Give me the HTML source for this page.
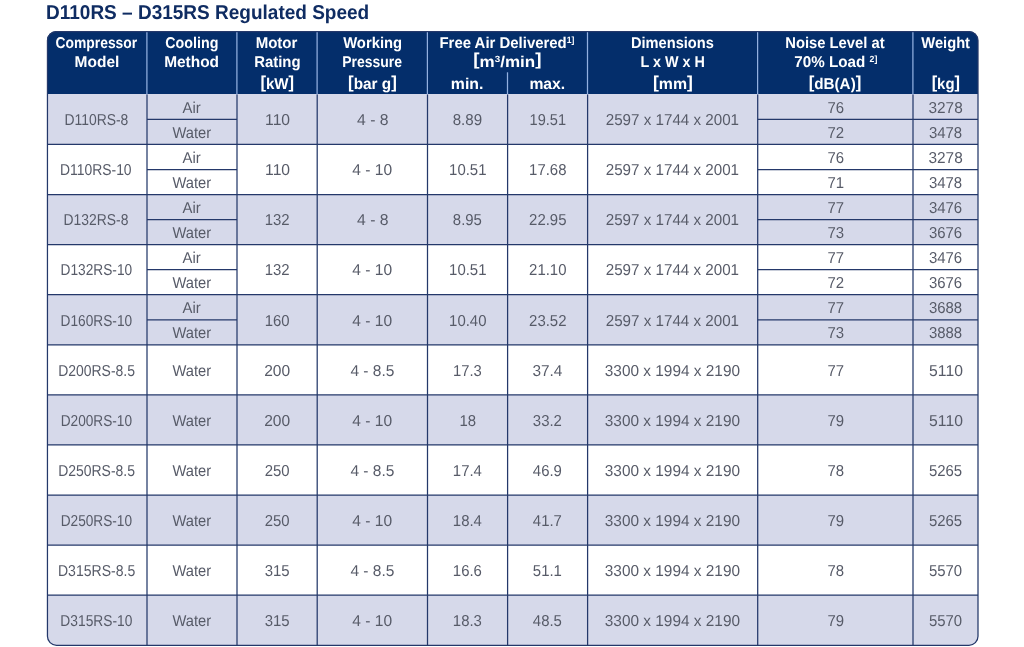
<!DOCTYPE html>
<html lang="en"><head><meta charset="utf-8"><title>D110RS – D315RS Regulated Speed</title>
<style>
html,body{margin:0;padding:0;background:#fff}
body{width:1024px;height:647px;position:relative;overflow:hidden;font-family:"Liberation Sans",sans-serif;text-rendering:geometricPrecision}
.a{position:absolute}
.c{position:absolute;display:flex;align-items:center;justify-content:center;color:#575b68;font-size:15.8px;line-height:18px;height:18px;white-space:nowrap}
.c span{display:inline-block;white-space:nowrap}
.h{position:absolute;display:flex;align-items:center;justify-content:center;color:#fff;font-weight:bold;font-size:15.6px;line-height:18px;height:18px;white-space:nowrap}
.u{font-size:15.6px}
.h span{display:inline-block;white-space:nowrap}
.h i{font-style:normal;font-size:17.2px;line-height:0;position:relative;top:-1.1px}
.v i{top:-2.2px !important}
.h sup{font-size:9px;line-height:0;vertical-align:baseline;position:relative;top:-5px}
#title{position:absolute;left:45.6px;top:1px;height:24px;line-height:24px;font-size:20px;font-weight:bold;color:#0f2c62;white-space:nowrap}
#title span{display:inline-block;transform-origin:0 50%;white-space:nowrap}
</style></head><body>
<div id="title"><span style="transform:scaleX(0.9503)">D110RS – D315RS Regulated Speed</span></div>
<div class="a" style="left:47.3px;top:31.0px;width:930.7px;height:614.3px;border-radius:9px;background:#fff;overflow:hidden">
<div class="a" style="left:0;top:0;width:100%;height:63.4px;background:#042e6b"></div>
<div class="a" style="left:0;top:63.40px;width:100%;height:50.08px;background:#d6d9ea"></div>
<div class="a" style="left:0;top:163.56px;width:100%;height:50.08px;background:#d6d9ea"></div>
<div class="a" style="left:0;top:263.72px;width:100%;height:50.08px;background:#d6d9ea"></div>
<div class="a" style="left:0;top:363.88px;width:100%;height:50.08px;background:#d6d9ea"></div>
<div class="a" style="left:0;top:464.04px;width:100%;height:50.08px;background:#d6d9ea"></div>
<div class="a" style="left:0;top:564.20px;width:100%;height:50.08px;background:#d6d9ea"></div>
</div>
<svg class="a" style="left:0;top:0" width="1024" height="647" viewBox="0 0 1024 647" fill="none">
<g stroke="#93b0e0" stroke-width="1.25">
<path d="M146.90 32.0V94.4"/>
<path d="M236.90 32.0V94.4"/>
<path d="M317.10 32.0V94.4"/>
<path d="M427.40 32.0V94.4"/>
<path d="M587.50 32.0V94.4"/>
<path d="M757.60 32.0V94.4"/>
<path d="M912.90 32.0V94.4"/>
<path d="M507.50 72.3V94.4"/>
</g>
<g stroke="#24386a" stroke-width="1.25">
<path d="M147.00 94.4V645.3"/>
<path d="M237.00 94.4V645.3"/>
<path d="M317.20 94.4V645.3"/>
<path d="M427.50 94.4V645.3"/>
<path d="M507.60 94.4V645.3"/>
<path d="M587.60 94.4V645.3"/>
<path d="M757.70 94.4V645.3"/>
<path d="M913.00 94.4V645.3"/>
<path d="M47.3 144.48H978.0"/>
<path d="M47.3 194.56H978.0"/>
<path d="M47.3 244.64H978.0"/>
<path d="M47.3 294.72H978.0"/>
<path d="M47.3 344.80H978.0"/>
<path d="M47.3 394.88H978.0"/>
<path d="M47.3 444.96H978.0"/>
<path d="M47.3 495.04H978.0"/>
<path d="M47.3 545.12H978.0"/>
<path d="M47.3 595.20H978.0"/>
<path d="M147.0 119.44H237.0M757.7 119.44H978.0"/>
<path d="M147.0 169.52H237.0M757.7 169.52H978.0"/>
<path d="M147.0 219.60H237.0M757.7 219.60H978.0"/>
<path d="M147.0 269.68H237.0M757.7 269.68H978.0"/>
<path d="M147.0 319.76H237.0M757.7 319.76H978.0"/>
<rect x="47.45" y="31.50" width="930.55" height="613.78" rx="9" ry="9"/>
</g></svg>
<div class="c" style="left:47.3px;top:112px;width:99.7px"><span style="transform:translateX(-0.9px) scaleX(0.8807)">D110RS-8</span></div>
<div class="c" style="left:147.0px;top:100px;width:90.0px"><span style="transform:translateX(0px) scaleX(0.9435)">Air</span></div>
<div class="c" style="left:147.0px;top:125px;width:90.0px"><span style="transform:translateX(0px) scaleX(0.9316)">Water</span></div>
<div class="c" style="left:757.7px;top:100px;width:155.3px"><span style="transform:translateX(0px) scaleX(0.9450)">76</span></div>
<div class="c" style="left:757.7px;top:125px;width:155.3px"><span style="transform:translateX(0px) scaleX(0.9450)">72</span></div>
<div class="c" style="left:913.0px;top:100px;width:65.0px"><span style="transform:translateX(0px) scaleX(0.9746)">3278</span></div>
<div class="c" style="left:913.0px;top:125px;width:65.0px"><span style="transform:translateX(0px) scaleX(0.9450)">3478</span></div>
<div class="c" style="left:237.0px;top:112px;width:80.2px"><span style="transform:translateX(0px) scaleX(0.9921)">110</span></div>
<div class="c" style="left:317.2px;top:112px;width:110.3px"><span style="transform:translateX(0px) scaleX(0.9964)">4 - 8</span></div>
<div class="c" style="left:427.5px;top:112px;width:80.1px"><span style="transform:translateX(0px) scaleX(0.9574)">8.89</span></div>
<div class="c" style="left:507.6px;top:112px;width:80.0px"><span style="transform:translateX(0px) scaleX(0.9231)">19.51</span></div>
<div class="c" style="left:587.6px;top:112px;width:170.1px"><span style="transform:translateX(0px) scaleX(0.9608)">2597 x 1744 x 2001</span></div>
<div class="c" style="left:47.3px;top:162px;width:99.7px"><span style="transform:translateX(-0.9px) scaleX(0.8803)">D110RS-10</span></div>
<div class="c" style="left:147.0px;top:150px;width:90.0px"><span style="transform:translateX(0px) scaleX(0.9435)">Air</span></div>
<div class="c" style="left:147.0px;top:175px;width:90.0px"><span style="transform:translateX(0px) scaleX(0.9316)">Water</span></div>
<div class="c" style="left:757.7px;top:150px;width:155.3px"><span style="transform:translateX(0px) scaleX(0.9450)">76</span></div>
<div class="c" style="left:757.7px;top:175px;width:155.3px"><span style="transform:translateX(0px) scaleX(0.9450)">71</span></div>
<div class="c" style="left:913.0px;top:150px;width:65.0px"><span style="transform:translateX(0px) scaleX(0.9746)">3278</span></div>
<div class="c" style="left:913.0px;top:175px;width:65.0px"><span style="transform:translateX(0px) scaleX(0.9450)">3478</span></div>
<div class="c" style="left:237.0px;top:162px;width:80.2px"><span style="transform:translateX(0px) scaleX(0.9921)">110</span></div>
<div class="c" style="left:317.2px;top:162px;width:110.3px"><span style="transform:translateX(0px) scaleX(0.9870)">4 - 10</span></div>
<div class="c" style="left:427.5px;top:162px;width:80.1px"><span style="transform:translateX(0px) scaleX(0.9450)">10.51</span></div>
<div class="c" style="left:507.6px;top:162px;width:80.0px"><span style="transform:translateX(0px) scaleX(0.9450)">17.68</span></div>
<div class="c" style="left:587.6px;top:162px;width:170.1px"><span style="transform:translateX(0px) scaleX(0.9608)">2597 x 1744 x 2001</span></div>
<div class="c" style="left:47.3px;top:212px;width:99.7px"><span style="transform:translateX(-0.9px) scaleX(0.8789)">D132RS-8</span></div>
<div class="c" style="left:147.0px;top:200px;width:90.0px"><span style="transform:translateX(0px) scaleX(0.9435)">Air</span></div>
<div class="c" style="left:147.0px;top:225px;width:90.0px"><span style="transform:translateX(0px) scaleX(0.9316)">Water</span></div>
<div class="c" style="left:757.7px;top:200px;width:155.3px"><span style="transform:translateX(0px) scaleX(0.9450)">77</span></div>
<div class="c" style="left:757.7px;top:225px;width:155.3px"><span style="transform:translateX(0px) scaleX(0.9450)">73</span></div>
<div class="c" style="left:913.0px;top:200px;width:65.0px"><span style="transform:translateX(0px) scaleX(0.9450)">3476</span></div>
<div class="c" style="left:913.0px;top:225px;width:65.0px"><span style="transform:translateX(0px) scaleX(0.9450)">3676</span></div>
<div class="c" style="left:237.0px;top:212px;width:80.2px"><span style="transform:translateX(0px) scaleX(0.9450)">132</span></div>
<div class="c" style="left:317.2px;top:212px;width:110.3px"><span style="transform:translateX(0px) scaleX(0.9964)">4 - 8</span></div>
<div class="c" style="left:427.5px;top:212px;width:80.1px"><span style="transform:translateX(0px) scaleX(0.9450)">8.95</span></div>
<div class="c" style="left:507.6px;top:212px;width:80.0px"><span style="transform:translateX(0px) scaleX(0.9450)">22.95</span></div>
<div class="c" style="left:587.6px;top:212px;width:170.1px"><span style="transform:translateX(0px) scaleX(0.9608)">2597 x 1744 x 2001</span></div>
<div class="c" style="left:47.3px;top:262px;width:99.7px"><span style="transform:translateX(-0.9px) scaleX(0.8676)">D132RS-10</span></div>
<div class="c" style="left:147.0px;top:250px;width:90.0px"><span style="transform:translateX(0px) scaleX(0.9435)">Air</span></div>
<div class="c" style="left:147.0px;top:275px;width:90.0px"><span style="transform:translateX(0px) scaleX(0.9316)">Water</span></div>
<div class="c" style="left:757.7px;top:250px;width:155.3px"><span style="transform:translateX(0px) scaleX(0.9450)">77</span></div>
<div class="c" style="left:757.7px;top:275px;width:155.3px"><span style="transform:translateX(0px) scaleX(0.9450)">72</span></div>
<div class="c" style="left:913.0px;top:250px;width:65.0px"><span style="transform:translateX(0px) scaleX(0.9450)">3476</span></div>
<div class="c" style="left:913.0px;top:275px;width:65.0px"><span style="transform:translateX(0px) scaleX(0.9450)">3676</span></div>
<div class="c" style="left:237.0px;top:262px;width:80.2px"><span style="transform:translateX(0px) scaleX(0.9450)">132</span></div>
<div class="c" style="left:317.2px;top:262px;width:110.3px"><span style="transform:translateX(0px) scaleX(0.9870)">4 - 10</span></div>
<div class="c" style="left:427.5px;top:262px;width:80.1px"><span style="transform:translateX(0px) scaleX(0.9450)">10.51</span></div>
<div class="c" style="left:507.6px;top:262px;width:80.0px"><span style="transform:translateX(0px) scaleX(0.9450)">21.10</span></div>
<div class="c" style="left:587.6px;top:262px;width:170.1px"><span style="transform:translateX(0px) scaleX(0.9608)">2597 x 1744 x 2001</span></div>
<div class="c" style="left:47.3px;top:313px;width:99.7px"><span style="transform:translateX(-0.9px) scaleX(0.8676)">D160RS-10</span></div>
<div class="c" style="left:147.0px;top:300px;width:90.0px"><span style="transform:translateX(0px) scaleX(0.9435)">Air</span></div>
<div class="c" style="left:147.0px;top:325px;width:90.0px"><span style="transform:translateX(0px) scaleX(0.9316)">Water</span></div>
<div class="c" style="left:757.7px;top:300px;width:155.3px"><span style="transform:translateX(0px) scaleX(0.9450)">77</span></div>
<div class="c" style="left:757.7px;top:325px;width:155.3px"><span style="transform:translateX(0px) scaleX(0.9450)">73</span></div>
<div class="c" style="left:913.0px;top:300px;width:65.0px"><span style="transform:translateX(0px) scaleX(0.9450)">3688</span></div>
<div class="c" style="left:913.0px;top:325px;width:65.0px"><span style="transform:translateX(0px) scaleX(0.9450)">3888</span></div>
<div class="c" style="left:237.0px;top:313px;width:80.2px"><span style="transform:translateX(0px) scaleX(0.9450)">160</span></div>
<div class="c" style="left:317.2px;top:313px;width:110.3px"><span style="transform:translateX(0px) scaleX(0.9870)">4 - 10</span></div>
<div class="c" style="left:427.5px;top:313px;width:80.1px"><span style="transform:translateX(0px) scaleX(0.9450)">10.40</span></div>
<div class="c" style="left:507.6px;top:313px;width:80.0px"><span style="transform:translateX(0px) scaleX(0.9450)">23.52</span></div>
<div class="c" style="left:587.6px;top:313px;width:170.1px"><span style="transform:translateX(0px) scaleX(0.9608)">2597 x 1744 x 2001</span></div>
<div class="c" style="left:47.3px;top:363px;width:99.7px"><span style="transform:translateX(-0.9px) scaleX(0.8838)">D200RS-8.5</span></div>
<div class="c" style="left:147.0px;top:363px;width:90.0px"><span style="transform:translateX(0px) scaleX(0.9316)">Water</span></div>
<div class="c" style="left:757.7px;top:363px;width:155.3px"><span style="transform:translateX(0px) scaleX(0.9450)">77</span></div>
<div class="c" style="left:913.0px;top:363px;width:65.0px"><span style="transform:translateX(0px) scaleX(0.9943)">5110</span></div>
<div class="c" style="left:237.0px;top:363px;width:80.2px"><span style="transform:translateX(0px) scaleX(0.9856)">200</span></div>
<div class="c" style="left:317.2px;top:363px;width:110.3px"><span style="transform:translateX(0px) scaleX(0.9816)">4 - 8.5</span></div>
<div class="c" style="left:427.5px;top:363px;width:80.1px"><span style="transform:translateX(0px) scaleX(0.9370)">17.3</span></div>
<div class="c" style="left:507.6px;top:363px;width:80.0px"><span style="transform:translateX(0px) scaleX(0.9744)">37.4</span></div>
<div class="c" style="left:587.6px;top:363px;width:170.1px"><span style="transform:translateX(0px) scaleX(0.9747)">3300 x 1994 x 2190</span></div>
<div class="c" style="left:47.3px;top:413px;width:99.7px"><span style="transform:translateX(-0.9px) scaleX(0.8651)">D200RS-10</span></div>
<div class="c" style="left:147.0px;top:413px;width:90.0px"><span style="transform:translateX(0px) scaleX(0.9316)">Water</span></div>
<div class="c" style="left:757.7px;top:413px;width:155.3px"><span style="transform:translateX(0px) scaleX(0.9450)">79</span></div>
<div class="c" style="left:913.0px;top:413px;width:65.0px"><span style="transform:translateX(0px) scaleX(0.9943)">5110</span></div>
<div class="c" style="left:237.0px;top:413px;width:80.2px"><span style="transform:translateX(0px) scaleX(0.9856)">200</span></div>
<div class="c" style="left:317.2px;top:413px;width:110.3px"><span style="transform:translateX(0px) scaleX(0.9870)">4 - 10</span></div>
<div class="c" style="left:427.5px;top:413px;width:80.1px"><span style="transform:translateX(0px) scaleX(0.9450)">18</span></div>
<div class="c" style="left:507.6px;top:413px;width:80.0px"><span style="transform:translateX(0px) scaleX(0.9450)">33.2</span></div>
<div class="c" style="left:587.6px;top:413px;width:170.1px"><span style="transform:translateX(0px) scaleX(0.9747)">3300 x 1994 x 2190</span></div>
<div class="c" style="left:47.3px;top:463px;width:99.7px"><span style="transform:translateX(-0.9px) scaleX(0.8838)">D250RS-8.5</span></div>
<div class="c" style="left:147.0px;top:463px;width:90.0px"><span style="transform:translateX(0px) scaleX(0.9316)">Water</span></div>
<div class="c" style="left:757.7px;top:463px;width:155.3px"><span style="transform:translateX(0px) scaleX(0.9450)">78</span></div>
<div class="c" style="left:913.0px;top:463px;width:65.0px"><span style="transform:translateX(0px) scaleX(0.9450)">5265</span></div>
<div class="c" style="left:237.0px;top:463px;width:80.2px"><span style="transform:translateX(0px) scaleX(0.9450)">250</span></div>
<div class="c" style="left:317.2px;top:463px;width:110.3px"><span style="transform:translateX(0px) scaleX(0.9816)">4 - 8.5</span></div>
<div class="c" style="left:427.5px;top:463px;width:80.1px"><span style="transform:translateX(0px) scaleX(0.9450)">17.4</span></div>
<div class="c" style="left:507.6px;top:463px;width:80.0px"><span style="transform:translateX(0px) scaleX(0.9450)">46.9</span></div>
<div class="c" style="left:587.6px;top:463px;width:170.1px"><span style="transform:translateX(0px) scaleX(0.9747)">3300 x 1994 x 2190</span></div>
<div class="c" style="left:47.3px;top:513px;width:99.7px"><span style="transform:translateX(-0.9px) scaleX(0.8651)">D250RS-10</span></div>
<div class="c" style="left:147.0px;top:513px;width:90.0px"><span style="transform:translateX(0px) scaleX(0.9316)">Water</span></div>
<div class="c" style="left:757.7px;top:513px;width:155.3px"><span style="transform:translateX(0px) scaleX(0.9450)">79</span></div>
<div class="c" style="left:913.0px;top:513px;width:65.0px"><span style="transform:translateX(0px) scaleX(0.9450)">5265</span></div>
<div class="c" style="left:237.0px;top:513px;width:80.2px"><span style="transform:translateX(0px) scaleX(0.9450)">250</span></div>
<div class="c" style="left:317.2px;top:513px;width:110.3px"><span style="transform:translateX(0px) scaleX(0.9870)">4 - 10</span></div>
<div class="c" style="left:427.5px;top:513px;width:80.1px"><span style="transform:translateX(0px) scaleX(0.9450)">18.4</span></div>
<div class="c" style="left:507.6px;top:513px;width:80.0px"><span style="transform:translateX(0px) scaleX(0.9450)">41.7</span></div>
<div class="c" style="left:587.6px;top:513px;width:170.1px"><span style="transform:translateX(0px) scaleX(0.9747)">3300 x 1994 x 2190</span></div>
<div class="c" style="left:47.3px;top:563px;width:99.7px"><span style="transform:translateX(-0.9px) scaleX(0.8885)">D315RS-8.5</span></div>
<div class="c" style="left:147.0px;top:563px;width:90.0px"><span style="transform:translateX(0px) scaleX(0.9316)">Water</span></div>
<div class="c" style="left:757.7px;top:563px;width:155.3px"><span style="transform:translateX(0px) scaleX(0.9450)">78</span></div>
<div class="c" style="left:913.0px;top:563px;width:65.0px"><span style="transform:translateX(0px) scaleX(0.9450)">5570</span></div>
<div class="c" style="left:237.0px;top:563px;width:80.2px"><span style="transform:translateX(0px) scaleX(0.9450)">315</span></div>
<div class="c" style="left:317.2px;top:563px;width:110.3px"><span style="transform:translateX(0px) scaleX(0.9816)">4 - 8.5</span></div>
<div class="c" style="left:427.5px;top:563px;width:80.1px"><span style="transform:translateX(0px) scaleX(0.9450)">16.6</span></div>
<div class="c" style="left:507.6px;top:563px;width:80.0px"><span style="transform:translateX(0px) scaleX(0.9450)">51.1</span></div>
<div class="c" style="left:587.6px;top:563px;width:170.1px"><span style="transform:translateX(0px) scaleX(0.9747)">3300 x 1994 x 2190</span></div>
<div class="c" style="left:47.3px;top:613px;width:99.7px"><span style="transform:translateX(-0.9px) scaleX(0.8725)">D315RS-10</span></div>
<div class="c" style="left:147.0px;top:613px;width:90.0px"><span style="transform:translateX(0px) scaleX(0.9316)">Water</span></div>
<div class="c" style="left:757.7px;top:613px;width:155.3px"><span style="transform:translateX(0px) scaleX(0.9450)">79</span></div>
<div class="c" style="left:913.0px;top:613px;width:65.0px"><span style="transform:translateX(0px) scaleX(0.9450)">5570</span></div>
<div class="c" style="left:237.0px;top:613px;width:80.2px"><span style="transform:translateX(0px) scaleX(0.9450)">315</span></div>
<div class="c" style="left:317.2px;top:613px;width:110.3px"><span style="transform:translateX(0px) scaleX(0.9870)">4 - 10</span></div>
<div class="c" style="left:427.5px;top:613px;width:80.1px"><span style="transform:translateX(0px) scaleX(0.9450)">18.3</span></div>
<div class="c" style="left:507.6px;top:613px;width:80.0px"><span style="transform:translateX(0px) scaleX(0.9450)">48.5</span></div>
<div class="c" style="left:587.6px;top:613px;width:170.1px"><span style="transform:translateX(0px) scaleX(0.9747)">3300 x 1994 x 2190</span></div>
<div class="h" style="left:47.3px;top:35px;width:99.7px"><span style="transform:translateX(-0.61px) scaleX(0.8899)">Compressor</span></div>
<div class="h" style="left:47.3px;top:54px;width:99.7px"><span style="transform:translateX(-0.57px) scaleX(0.9921)">Model</span></div>
<div class="h" style="left:147.0px;top:35px;width:90.0px"><span style="transform:translateX(-0.21px) scaleX(0.9147)">Cooling</span></div>
<div class="h" style="left:147.0px;top:54px;width:90.0px"><span style="transform:translateX(-0.11px) scaleX(0.9901)">Method</span></div>
<div class="h" style="left:237.0px;top:35px;width:80.2px"><span style="transform:translateX(-0.13px) scaleX(0.9639)">Motor</span></div>
<div class="h" style="left:237.0px;top:54px;width:80.2px"><span style="transform:translateX(0.06px) scaleX(0.9551)">Rating</span></div>
<div class="h u" style="left:237.0px;top:76px;width:80.2px"><span style="transform:translateX(-0.2px) scaleX(0.9654)"><i>[</i>kW<i>]</i></span></div>
<div class="h" style="left:317.2px;top:35px;width:110.3px"><span style="transform:translateX(0.59px) scaleX(0.9490)">Working</span></div>
<div class="h" style="left:317.2px;top:54px;width:110.3px"><span style="transform:translateX(-0.23px) scaleX(0.8965)">Pressure</span></div>
<div class="h u" style="left:317.2px;top:76px;width:110.3px"><span style="transform:translateX(-0.37px) scaleX(0.9835)"><i>[</i>bar g<i>]</i></span></div>
<div class="h" style="left:427.5px;top:35px;width:160.1px"><span style="transform:translateX(-0.52px) scaleX(0.9576)">Free Air Delivered<sup>1]</sup></span></div>
<div class="h u v" style="left:427.5px;top:54px;width:160.1px"><span style="transform:translateX(0.14px) scaleX(1.0914)"><i>[</i>m<sup>3</sup>/min<i>]</i></span></div>
<div class="h" style="left:427.5px;top:76px;width:80.1px"><span style="transform:translateX(-0.92px) scaleX(1.0143)">min.</span></div>
<div class="h" style="left:507.6px;top:76px;width:80.0px"><span style="transform:translateX(-0.49px) scaleX(1.0074)">max.</span></div>
<div class="h" style="left:587.6px;top:35px;width:170.1px"><span style="transform:translateX(0.23px) scaleX(0.9380)">Dimensions</span></div>
<div class="h" style="left:587.6px;top:54px;width:170.1px"><span style="transform:translateX(-0.34px) scaleX(0.9211)">L x W x H</span></div>
<div class="h u" style="left:587.6px;top:76px;width:170.1px"><span style="transform:translateX(0.39px) scaleX(1.0184)"><i>[</i>mm<i>]</i></span></div>
<div class="h" style="left:757.7px;top:35px;width:155.3px"><span style="transform:translateX(-0.53px) scaleX(0.9471)">Noise Level at</span></div>
<div class="h" style="left:757.7px;top:54px;width:155.3px"><span style="transform:translateX(0.27px) scaleX(0.9744)">70% Load <sup>2]</sup></span></div>
<div class="h u" style="left:757.7px;top:76px;width:155.3px"><span style="transform:translateX(0.02px) scaleX(0.9770)"><i>[</i>dB(A)<i>]</i></span></div>
<div class="h" style="left:913.0px;top:35px;width:65.0px"><span style="transform:translateX(-0.2px) scaleX(0.9426)">Weight</span></div>
<div class="h u" style="left:913.0px;top:76px;width:65.0px"><span style="transform:translateX(-0.02px) scaleX(0.9550)"><i>[</i>kg<i>]</i></span></div>
</body></html>
